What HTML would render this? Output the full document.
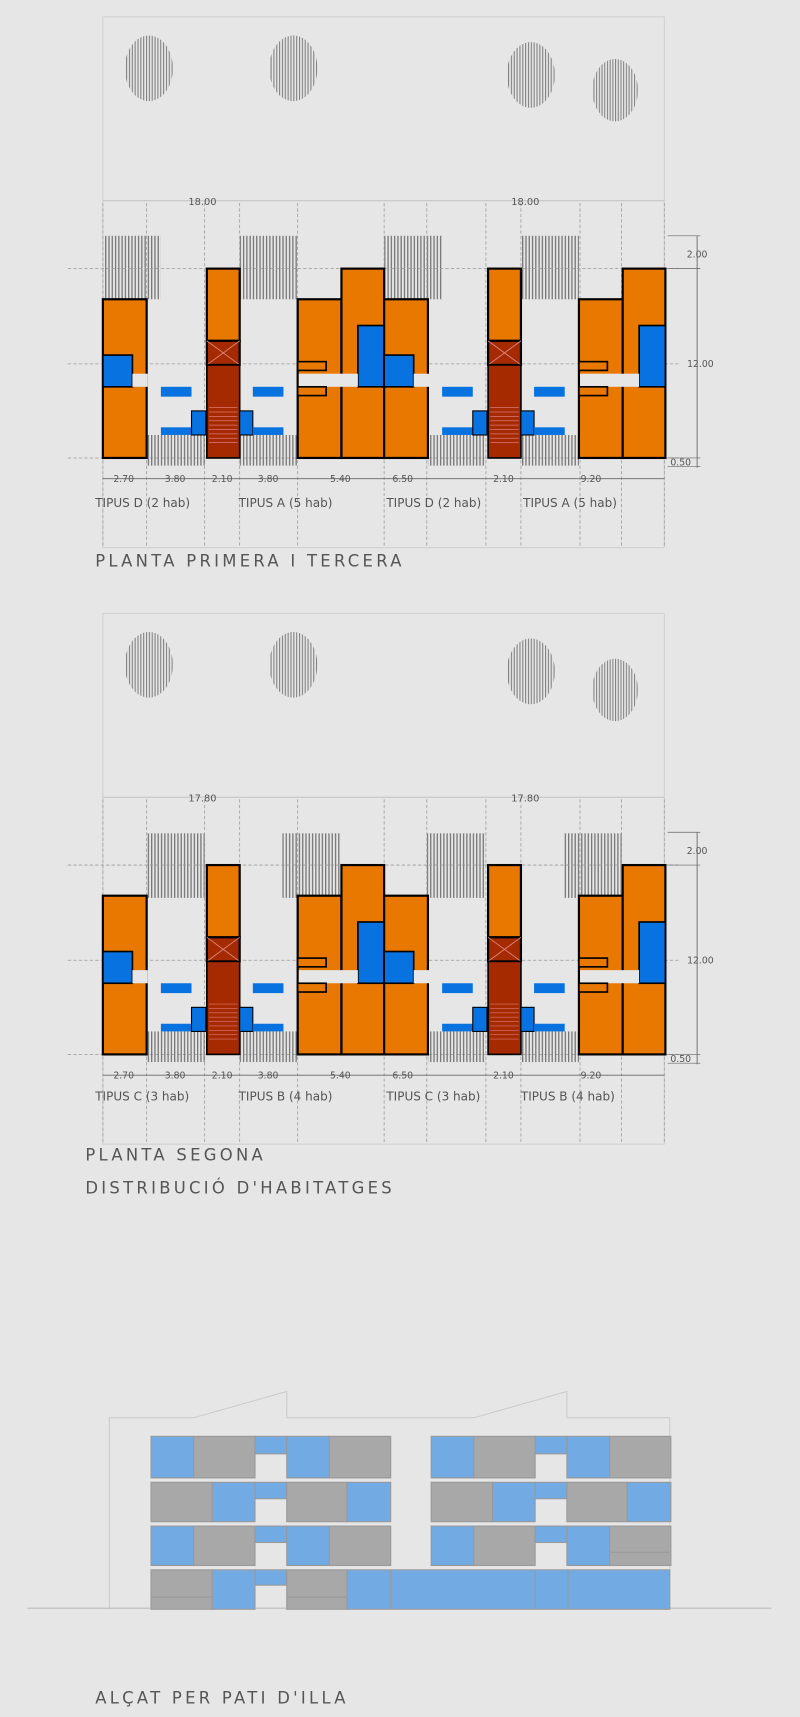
<!DOCTYPE html>
<html><head><meta charset="utf-8"><style>
html,body{margin:0;padding:0;background:#e6e6e6;}
svg{display:block;}
text{font-family:"DejaVu Sans","Liberation Sans",sans-serif;fill:#555;}
</style></head><body>
<svg width="800" height="1717" viewBox="0 0 731 1568" xmlns="http://www.w3.org/2000/svg">
<defs>
<pattern id="h" width="3" height="10" patternUnits="userSpaceOnUse"><rect x="0" y="0" width="1.2" height="10" fill="#777"/></pattern>
<pattern id="ht" width="2.6" height="10" patternUnits="userSpaceOnUse"><rect x="0" y="0" width="1" height="10" fill="#808080"/></pattern>
<g id="module">
  <!-- left block -->
  <rect x="94" y="273" width="40" height="145" fill="#e97800" stroke="#000" stroke-width="2"/>
  <rect x="94" y="324" width="27" height="29" fill="#0873e0" stroke="#000" stroke-width="1.5"/>
  <rect x="121" y="341" width="14" height="12" fill="#e6e6e6"/>
  <!-- stair -->
  <rect x="189" y="245" width="30" height="66" fill="#e97800" stroke="#000" stroke-width="2"/>
  <rect x="189" y="311" width="30" height="22" fill="#a52a00" stroke="#000" stroke-width="2"/>
  <path d="M189 311L219 333M219 311L189 333" stroke="#d88" stroke-width="0.8"/>
  <rect x="189" y="333" width="30" height="85" fill="#a52a00" stroke="#000" stroke-width="1.5"/>
  <path d="M191 372h26M191 376h26M191 380h26M191 384h26M191 388h26M191 392h26M191 396h26M191 400h26M191 404h26" stroke="#d77" stroke-width="0.6"/>
  <!-- blue bits -->
  <rect x="147" y="353" width="28" height="9" fill="#0873e0"/>
  <rect x="147" y="390" width="28" height="7" fill="#0873e0"/>
  <rect x="175" y="375" width="13" height="22" fill="#0873e0" stroke="#000" stroke-width="1"/>
  <rect x="219" y="375" width="12" height="22" fill="#0873e0" stroke="#000" stroke-width="1"/>
  <rect x="231" y="353" width="28" height="9" fill="#0873e0"/>
  <rect x="231" y="390" width="28" height="7" fill="#0873e0"/>
  <!-- right block -->
  <rect x="272" y="273" width="40" height="145" fill="#e97800" stroke="#000" stroke-width="2"/>
  <rect x="312" y="245" width="39" height="173" fill="#e97800" stroke="#000" stroke-width="2"/>
  <rect x="327" y="297" width="24" height="56" fill="#0873e0" stroke="#000" stroke-width="1.5"/>
  <rect x="273" y="341" width="54" height="12" fill="#e6e6e6"/>
  <rect x="272" y="330" width="26" height="8" fill="#e97800" stroke="#000" stroke-width="1.5"/>
  <rect x="272" y="353" width="26" height="8" fill="#e97800" stroke="#000" stroke-width="1.5"/>
</g>
<g id="plan">
  <rect x="94" y="15" width="513" height="485" fill="none" stroke="#ccc" stroke-width="0.8"/>
  <line x1="94" y1="183" x2="607" y2="183" stroke="#bbb" stroke-width="0.8"/>
  <g stroke="#999" stroke-width="0.7" stroke-dasharray="3,2">
    <path d="M94 185V500M134 185V500M187 185V500M219 185V500M272 185V500M351 185V500M390 185V500M444 185V500M476 185V500M530 185V500M568 185V500M607 185V500"/>
    <path d="M62 245H620M62 332H620M62 418H620"/>
  </g>
  <!-- bottom hatches (common) -->
  <rect x="134" y="397" width="53" height="28" fill="url(#h)"/>
  <rect x="219" y="397" width="53" height="28" fill="url(#h)"/>
  <rect x="391" y="397" width="53" height="28" fill="url(#h)"/>
  <rect x="476" y="397" width="53" height="28" fill="url(#h)"/>
  <use href="#module"/>
  <use href="#module" transform="translate(257,0)"/>
  <!-- dims -->
  <line x1="94" y1="437" x2="607" y2="437" stroke="#666" stroke-width="0.8"/>
  <line x1="637" y1="215" x2="637" y2="427" stroke="#666" stroke-width="0.8"/>
  <path d="M610 215h30M610 245h30M610 418h30M610 426h30" stroke="#666" stroke-width="0.6"/>
  <g font-size="8.5" text-anchor="middle">
    <text x="113" y="440">2.70</text><text x="160" y="440">3.80</text><text x="203" y="440">2.10</text><text x="245" y="440">3.80</text><text x="311" y="440">5.40</text><text x="368" y="440">6.50</text><text x="460" y="440">2.10</text><text x="540" y="440">9.20</text>
    <text x="637" y="235">2.00</text><text x="640" y="335">12.00</text><text x="622" y="425">0.50</text>
  </g>
</g>
<ellipse id="tr" cx="0" cy="0" rx="22" ry="30" fill="url(#ht)"/>
</defs>

<!-- PLAN 1 -->
<rect x="94" y="215" width="53" height="58" fill="url(#h)"/>
<rect x="219" y="215" width="53" height="58" fill="url(#h)"/>
<rect x="351" y="215" width="53" height="58" fill="url(#h)"/>
<rect x="476" y="215" width="53" height="58" fill="url(#h)"/>
<use href="#plan"/>
<use href="#tr" transform="translate(136,62)"/>
<use href="#tr" transform="translate(268,62)"/>
<use href="#tr" transform="translate(485,68)"/>
<use href="#tr" transform="translate(562,82) scale(0.95)"/>
<g font-size="9" text-anchor="middle"><text x="185" y="187">18.00</text><text x="480" y="187">18.00</text></g>
<g font-size="11"><text x="87" y="463">TIPUS D (2 hab)</text><text x="218" y="463">TIPUS A (5 hab)</text><text x="353" y="463">TIPUS D (2 hab)</text><text x="478" y="463">TIPUS A (5 hab)</text></g>
<text x="87" y="517" font-size="15" letter-spacing="3">PLANTA PRIMERA I TERCERA</text>

<!-- PLAN 2 -->
<rect x="134" y="761" width="53" height="59" fill="url(#h)"/>
<rect x="258" y="761" width="53" height="59" fill="url(#h)"/>
<rect x="390" y="761" width="53" height="59" fill="url(#h)"/>
<rect x="515" y="761" width="53" height="59" fill="url(#h)"/>
<g transform="translate(0,545)"><use href="#plan"/></g>
<use href="#tr" transform="translate(136,607)"/>
<use href="#tr" transform="translate(268,607)"/>
<use href="#tr" transform="translate(485,613)"/>
<use href="#tr" transform="translate(562,630) scale(0.95)"/>
<g font-size="9" text-anchor="middle"><text x="185" y="732">17.80</text><text x="480" y="732">17.80</text></g>
<g font-size="11"><text x="87" y="1005">TIPUS C (3 hab)</text><text x="218" y="1005">TIPUS B (4 hab)</text><text x="353" y="1005">TIPUS C (3 hab)</text><text x="476" y="1005">TIPUS B (4 hab)</text></g>
<text x="78" y="1060" font-size="15" letter-spacing="3">PLANTA SEGONA</text>
<text x="78" y="1090" font-size="15" letter-spacing="3">DISTRIBUCIÓ D'HABITATGES</text>

<!-- ELEVATION -->
<path d="M100 1470V1295H177L262 1271V1295H433L518 1271V1295H612V1470" fill="none" stroke="#ccc" stroke-width="1"/>
<line x1="25" y1="1469" x2="705" y2="1469" stroke="#bbb" stroke-width="1"/>
<g id="el">
  <g stroke="#999" stroke-width="1">
  <rect x="138" y="1312" width="39" height="38" fill="#72aae4"/>
  <rect x="177" y="1312" width="56" height="38" fill="#a8a8a8"/>
  <rect x="233" y="1312" width="29" height="16" fill="#72aae4"/>
  <rect x="262" y="1312" width="39" height="38" fill="#72aae4"/>
  <rect x="301" y="1312" width="56" height="38" fill="#a8a8a8"/>
  <rect x="138" y="1354" width="56" height="36" fill="#a8a8a8"/>
  <rect x="194" y="1354" width="39" height="36" fill="#72aae4"/>
  <rect x="233" y="1354" width="29" height="15" fill="#72aae4"/>
  <rect x="262" y="1354" width="55" height="36" fill="#a8a8a8"/>
  <rect x="317" y="1354" width="40" height="36" fill="#72aae4"/>
  <rect x="138" y="1394" width="39" height="36" fill="#72aae4"/>
  <rect x="177" y="1394" width="56" height="36" fill="#a8a8a8"/>
  <rect x="233" y="1394" width="29" height="15" fill="#72aae4"/>
  <rect x="262" y="1394" width="39" height="36" fill="#72aae4"/>
  <rect x="301" y="1394" width="56" height="36" fill="#a8a8a8"/>
  </g>
</g>
<use href="#el" transform="translate(256,0)"/>
<g stroke="#999" stroke-width="1">
  <rect x="138" y="1434" width="56" height="36" fill="#a8a8a8"/>
  <rect x="194" y="1434" width="39" height="36" fill="#72aae4"/>
  <rect x="233" y="1434" width="29" height="14" fill="#72aae4"/>
  <rect x="262" y="1434" width="55" height="36" fill="#a8a8a8"/>
  <rect x="317" y="1434" width="295" height="36" fill="#72aae4"/>
  <path d="M357 1434V1470M489 1434V1470M519 1434V1470M138 1459H194M262 1459H317M557 1418H612"/>
</g>
<text x="87" y="1556" font-size="15" letter-spacing="3">ALÇAT PER PATI D'ILLA</text>
</svg>
</body></html>
